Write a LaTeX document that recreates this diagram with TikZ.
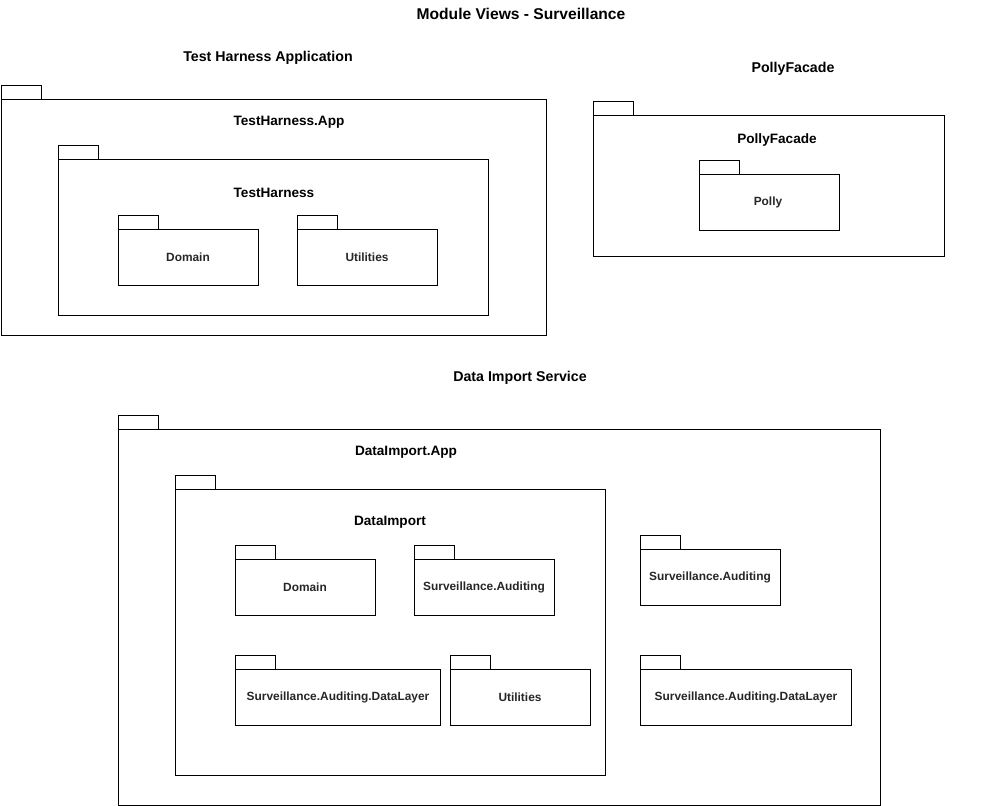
\documentclass[tikz,border=0pt]{standalone}
\usepackage{fontspec}
\setmainfont{Liberation Sans}
\begin{document}
\begin{tikzpicture}[x=1pt,y=-1pt,
  pkgbody/.style={draw=black, line width=1pt, inner sep=0pt, outer sep=0pt, anchor=north west},
  pkgtab/.style={draw=black, line width=1pt, inner sep=0pt, outer sep=0pt, anchor=south west,
                 minimum width=40pt, minimum height=14pt},
  maintitle/.style={font=\bfseries\fontsize{15.6}{18}\selectfont, inner sep=0pt},
  grouptitle/.style={font=\bfseries\fontsize{14.2}{17}\selectfont, inner sep=0pt},
  pkgtitle/.style={font=\bfseries\fontsize{13.6}{16}\selectfont, inner sep=0pt},
  pkglabel/.style={font=\bfseries\fontsize{11.9}{14}\selectfont, inner sep=0pt, text=black!85}
]
% canvas
\useasboundingbox (0,0) rectangle (994,806);

% package: name, x, y (top of tab), width, height of body
\newcommand{\umlpkg}[5]{%
  \node[pkgbody, minimum width=#4pt, minimum height=#5pt] (#1) at (#2,#3+14) {};
  \node[pkgtab] (#1-tab) at (#1.north west) {};
}

% headings
\node[maintitle] (title) at (521,13.5) {Module Views - Surveillance};
\node[grouptitle] (thaHead) at (268,57.5) {Test Harness Application};
\node[grouptitle] (pfHead) at (793,68.5) {PollyFacade};
\node[grouptitle] (disHead) at (520,377.5) {Data Import Service};

% Test Harness Application
\umlpkg{thApp}{1}{85}{545}{236}
\node[pkgtitle] (thAppT) at (289,122.5) {TestHarness.App};
\umlpkg{th}{58}{145}{430}{156}
\node[pkgtitle] (thT) at (274,192.5) {TestHarness};
\umlpkg{thDomain}{118}{215}{140}{56}
\node[pkglabel] (thDomainT) at (188,257) {Domain};
\umlpkg{thUtil}{297}{215}{140}{56}
\node[pkglabel] (thUtilT) at (367,257) {Utilities};

% PollyFacade
\umlpkg{pf}{593}{101}{351}{141}
\node[pkgtitle] (pfT) at (777,139.5) {PollyFacade};
\umlpkg{polly}{699}{160}{140}{56}
\node[pkglabel] (pollyT) at (768,202) {Polly};

% Data Import Service
\umlpkg{diApp}{118}{415}{762}{376}
\node[pkgtitle] (diAppT) at (406,452.5) {DataImport.App};
\umlpkg{di}{175}{475}{430}{286}
\node[pkgtitle] (diT) at (390,522.5) {DataImport};
\umlpkg{diDomain}{235}{545}{140}{56}
\node[pkglabel] (diDomainT) at (305,587) {Domain};
\umlpkg{diAud}{414}{545}{140}{56}
\node[pkglabel] (diAudT) at (484,587) {Surveillance.Auditing};
\umlpkg{diDL}{235}{655}{205}{56}
\node[pkglabel] (diDLT) at (338,697) {Surveillance.Auditing.DataLayer};
\umlpkg{diUtil}{450}{655}{140}{56}
\node[pkglabel] (diUtilT) at (520,697) {Utilities};
\umlpkg{aud}{640}{535}{140}{56}
\node[pkglabel] (audT) at (710,577) {Surveillance.Auditing};
\umlpkg{audDL}{640}{655}{211}{56}
\node[pkglabel] (audDLT) at (746,697) {Surveillance.Auditing.DataLayer};
\end{tikzpicture}
\end{document}
